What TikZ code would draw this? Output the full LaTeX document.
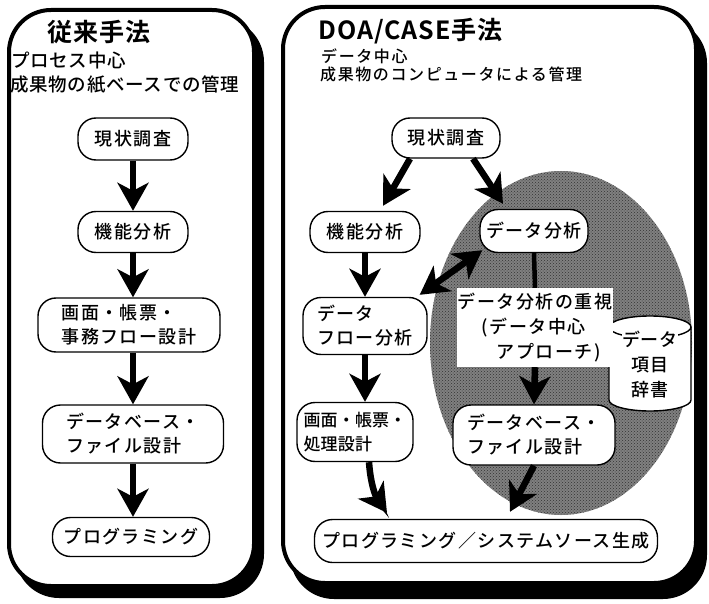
\documentclass[tikz,border=0pt]{standalone}
\usepackage{fontspec}
\setmainfont{Noto Sans CJK JP}
\newfontfamily\nodefont{Noto Sans CJK JP Medium}[LetterSpace=8]
\newfontfamily\nodefontB{Noto Sans CJK JP Medium}[LetterSpace=1]
\newfontfamily\lhfont{Noto Sans CJK JP Medium}[LetterSpace=4]
\newfontfamily\rhfont{Noto Sans CJK JP Medium}[LetterSpace=10]
\newfontfamily\titlefont{Noto Sans CJK JP Bold}[LetterSpace=4]
\usetikzlibrary{arrows.meta,patterns}
\begin{document}
\begin{tikzpicture}[x=1pt,y=1pt,
  panel/.style={fill=white, draw=black, line width=4pt, rounded corners=42pt},
  panelshadow/.style={fill=black, rounded corners=44pt},
  box/.style={draw, line width=1.4pt, fill=white, rounded corners=18pt, inner sep=0pt, align=left, font=\nodefont\fontsize{18}{24}\selectfont},
  txt/.style={inner sep=0pt, anchor=west},
  lhead/.style={txt, font=\lhfont\fontsize{18.5}{24}\selectfont},
  rhead/.style={txt, font=\rhfont\fontsize{16}{20}\selectfont},
  ttl/.style={txt, font=\titlefont\fontsize{25}{30}\selectfont},
  flow/.style={line width=6.5pt, -{Stealth[length=28pt,width=31pt,inset=8pt]}},
  flow2/.style={line width=6.5pt, {Stealth[length=28pt,width=31pt,inset=8pt]}-{Stealth[length=28pt,width=31pt,inset=8pt]}},
  link/.style={line width=4.5pt},
  dataarea/.style={fill=black!50},
  datadots/.style={pattern=crosshatch dots, pattern color=black!80}
]
\useasboundingbox (0,0) rectangle (709,-604);

% panels
\fill[panelshadow] (15,-18) rectangle (264,-598);
\draw[panel] (9,-10) rectangle (254,-586);
\fill[panelshadow] (290,-19) rectangle (707,-599);
\draw[panel] (283,-7) rectangle (696,-583);

% data-centred area
\fill[dataarea] (561,-343) ellipse [x radius=131, y radius=172];
\fill[datadots] (561,-343) ellipse [x radius=131, y radius=172];

% cylinder (data dictionary)
\filldraw[fill=white, line width=1.4pt] (609,-327) -- (609,-400)
  arc[start angle=180, end angle=360, x radius=41, y radius=11]
  -- (691,-327)
  arc[start angle=0, end angle=180, x radius=41, y radius=11] -- cycle;
\draw[line width=1.4pt] (609,-327) arc[start angle=180, end angle=360, x radius=41, y radius=11];
\node[fill=white, inner sep=1pt, align=center, font=\nodefontB\fontsize{18}{25}\selectfont] (dict) at (650,-365) {データ\\項目\\辞書};

% headers
\node[ttl] (ltitle) at (47,-32) {従来手法};
\node[lhead] (lh1) at (11,-60) {プロセス中心};
\node[lhead] (lh2) at (10,-85) {成果物の紙ベースでの管理};
\node[ttl] (rtitle) at (318,-31) {DOA/CASE手法};
\node[rhead] (rh1) at (321,-56) {データ中心};
\node[rhead] (rh2) at (320,-74) {成果物のコンピュータによる管理};

% left flow
\node[box, minimum width=110pt, minimum height=42pt] (L1) at (133,-139) {現状調査};
\node[box, minimum width=110pt, minimum height=41pt] (L2) at (133,-232) {機能分析};
\node[box, minimum width=182pt, minimum height=54pt] (L3) at (129,-325) {画面・帳票・\\事務フロー設計};
\node[box, minimum width=181pt, minimum height=58pt] (L4) at (133,-434) {データベース・\\ファイル設計};
\node[box, minimum width=157pt, minimum height=39pt] (L5) at (131,-537) {プログラミング};

% right flow
\node[box, minimum width=108pt, minimum height=40pt] (R1) at (446,-138) {現状調査};
\node[box, minimum width=110pt, minimum height=41pt] (R2) at (365,-232) {機能分析};
\node[box, minimum width=108pt, minimum height=43pt] (R3) at (534,-231) {データ分析};
\node[box, minimum width=124pt, minimum height=57pt] (R4) at (365,-326) {データ\\フロー分析};
\node[box, minimum width=116pt, minimum height=59pt, font=\nodefontB\fontsize{17}{24}\selectfont] (R5) at (355,-432) {画面・帳票・\\処理設計};
\node[fill=white, inner xsep=1pt, inner ysep=0pt, minimum height=79pt, align=left, font=\nodefont\fontsize{18}{25}\selectfont] (TX) at (535,-327.5) {データ分析の重視\\\hspace*{24pt}(データ中心\\\hspace*{39pt}アプローチ)};
\node[box, minimum width=162pt, minimum height=60pt] (R6) at (534,-435) {データベース・\\ファイル設計};
\node[box, minimum width=343pt, minimum height=43pt] (R7) at (486,-541) {プログラミング／システムソース生成};

% left connectors
\draw[flow] (L1.south) -- (L2.north);
\draw[flow] (L2.south) -- (L2.south |- L3.north);
\draw[flow] (L3.south -| L4) -- (L4.north);
\draw[flow] (L4.south) -- (L4.south |- L5.north);

% right connectors
\draw[flow] ([xshift=-36pt]R1.south) -- ([xshift=18pt,yshift=5pt]R2.north);
\draw[flow] ([xshift=27pt]R1.south) -- ([xshift=-31pt,yshift=5pt]R3.north);
\draw[flow2] ([xshift=3pt,yshift=3pt]R3.south west) -- ([xshift=-8pt,yshift=2pt]R4.north east);
\draw[link] (R3.south) -- (TX.north);
\draw[flow] (TX.south) -- (R6.north);
\draw[flow] (R2.south) -- (R4.north);
\draw[flow] (R4.south) -- (R4.south |- R5.north);
\draw[flow] ([xshift=14pt]R5.south) .. controls (371,-490) and (378,-500) .. ([xshift=-99pt,yshift=6pt]R7.north);
\draw[flow] (R6.south) -- ([xshift=24pt,yshift=7pt]R7.north);
\end{tikzpicture}
\end{document}
